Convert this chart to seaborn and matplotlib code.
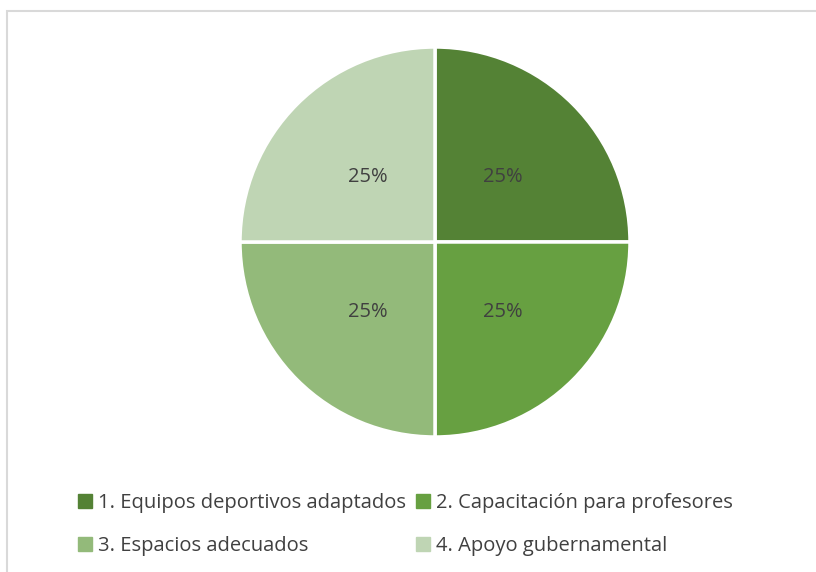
import matplotlib
matplotlib.use("Agg")
import matplotlib.pyplot as plt
import matplotlib.patches as mpatches
import seaborn as sns

# Data
categories = ["1. Equipos deportivos adaptados", "2. Capacitación para profesores",
              "3. Espacios adecuados", "4. Apoyo gubernamental"]
values = [25, 25, 25, 25]
colors = ["#548235", "#67a041", "#93ba7a", "#bfd5b4"]

sns.set_theme(style="white")
plt.rcParams["font.family"] = ["Open Sans", "DejaVu Sans"]

fig = plt.figure(figsize=(8.16, 5.72), dpi=100)

# pie area: center (435, 242), radius ~195 px
r = 195
ax = fig.add_axes([(435 - r) / 816, 1 - (242 + r) / 572, 2 * r / 816, 2 * r / 572])
wedges, texts, autotexts = ax.pie(
    values, colors=colors, startangle=90, counterclock=False,
    autopct="%1.0f%%", pctdistance=0.49,
    wedgeprops=dict(edgecolor="white", linewidth=2.5),
    textprops=dict(color="#404040", fontsize=14.5),
)
for t in autotexts:
    t.set_va("center_baseline")
ax.set_xlim(-1, 1)
ax.set_ylim(-1, 1)
ax.set_aspect("equal")

# outer frame (clipped on right/bottom like the reference)
frame = mpatches.Rectangle((7 / 816, -0.1), 1.2, 1 - 11 / 572 + 0.1,
                           transform=fig.transFigure, fill=False,
                           edgecolor="#d9d9d9", linewidth=1.5)
fig.patches.append(frame)

# legend is row-major in the reference -> reorder for matplotlib's column fill
order = [0, 2, 1, 3]
handles = [mpatches.Patch(color=colors[i], label=categories[i]) for i in order]
fig.legend(handles=handles, loc="upper left", bbox_to_anchor=(60 / 816, 1 - 475 / 572),
           ncol=2, frameon=False, fontsize=14.5, handlelength=0.7, handleheight=0.7,
           handletextpad=0.3, columnspacing=0.5, labelspacing=1.15,
           labelcolor="#404040")

fig.savefig("out.png", dpi=100)
